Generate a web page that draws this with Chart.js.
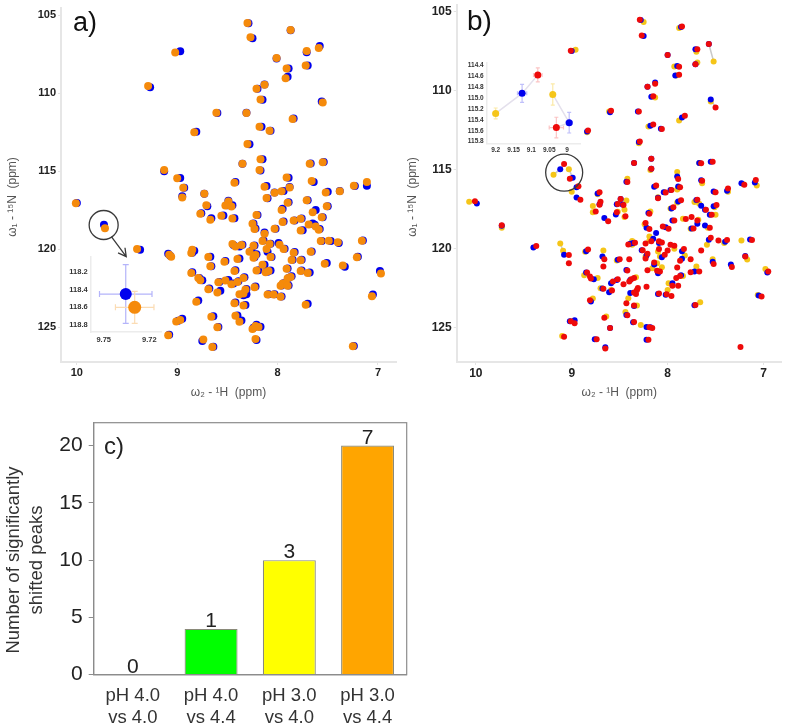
<!DOCTYPE html>
<html>
<head>
<meta charset="utf-8">
<title>NMR peaks</title>
<script src="https://cdn.jsdelivr.net/npm/chart.js@4/dist/chart.umd.min.js"></script>
<style>
html, body { margin: 0; padding: 0; background: #fff; }
#page { position: relative; width: 787px; height: 727px; overflow: hidden; }
.box { position: absolute; }
.box canvas { display: block; filter: blur(0.35px); }
</style>
</head>
<body>
<div id="page">
  <div class="box" style="left:0;top:0"><canvas id="chartA" width="400" height="410"></canvas></div>
  <div class="box" style="left:400px;top:0"><canvas id="chartB" width="387" height="410"></canvas></div>
  <div class="box" style="left:0;top:410px"><canvas id="chartC" width="430" height="317"></canvas></div>
  <div class="box" style="left:50px;top:250px"><canvas id="insetA" width="125" height="100"></canvas></div>
  <div class="box" style="left:430px;top:50px"><canvas id="insetB" width="160" height="110"></canvas></div>
</div>
<script>
var hTicks = [10, 9, 8, 7];
var nTicks = [105, 110, 115, 120, 125];

// panel a, [1H, 15N] in ppm
var aOrange = [[8.30,105.51],[7.87,105.96],[8.27,106.43],[7.71,107.31],[7.59,107.12],[9.02,107.41],[8.01,107.76],[7.91,108.42],[7.72,108.23],[7.92,109.06],[9.29,109.55],[8.13,109.47],[8.21,109.72],[8.17,110.41],[7.55,110.60],[8.61,111.26],[8.31,111.28],[7.85,111.67],[8.18,112.16],[8.08,112.41],[8.83,112.52],[8.30,113.27],[8.17,114.25],[8.35,114.53],[7.68,114.53],[7.55,114.44],[9.13,114.94],[8.18,114.94],[9.00,115.47],[7.91,115.41],[7.66,115.64],[8.43,115.75],[7.11,115.71],[7.24,115.94],[8.94,116.07],[8.13,116.00],[7.88,116.05],[7.96,116.30],[8.03,116.39],[7.52,116.37],[7.38,116.30],[8.73,116.45],[8.95,116.69],[8.11,116.73],[7.71,116.88],[10.01,117.07],[7.90,117.03],
[8.71,117.19],[8.49,116.96],[8.52,117.21],[8.46,117.28],[7.51,117.26],[7.96,117.49],[7.65,117.64],[8.77,117.74],[8.56,117.87],[8.67,118.13],[8.45,118.04],[8.21,117.81],[7.56,117.96],[7.77,118.06],[7.84,118.17],[7.95,118.26],[8.25,118.38],[8.23,118.72],[8.03,118.70],[7.69,118.43],[7.77,118.81],[7.62,118.55],[7.59,118.77],[9.72,118.66],[8.13,119.02],[8.15,119.49],[7.57,119.49],[7.49,119.47],[7.40,119.57],[7.16,119.47],[8.45,119.68],[8.42,119.83],[8.36,119.74],[8.24,119.79],[8.08,119.68],[7.98,119.72],[7.94,120.00],[8.11,120.00],[9.40,120.00],[8.85,120.04],[8.86,120.26],[9.08,120.36],[9.06,120.49],[8.28,120.17],[8.22,120.38],[8.24,120.55],[8.69,120.51],[8.07,120.51],[7.84,120.23],[7.67,120.17],[8.53,120.81],[8.40,120.64],[7.86,120.70],[7.77,120.72],[8.15,121.00],[7.53,120.94],[7.35,121.06],[7.21,120.53],[8.67,121.11],[7.91,121.26],[7.77,121.40],[7.70,121.53],[8.43,121.40],[8.21,121.38],[8.12,121.49],[8.09,121.40],[8.86,121.53],[6.97,121.57],[7.87,121.79],[7.90,121.87],[8.79,121.85],[8.77,122.00],[8.34,121.85],[8.40,122.11],[8.59,122.13],[8.52,122.02],[8.46,122.26],[7.95,122.21],[7.97,122.36],[7.90,122.36],[8.69,122.57],[8.60,122.79],[8.32,122.60],[8.23,122.45],[8.38,122.89],[8.34,122.85],[8.10,122.91],[8.04,122.91],[7.97,123.06],[7.06,123.02],[8.81,123.38],[8.43,123.47],[8.34,123.62],[7.72,123.57],[8.66,124.34],[8.42,124.28],[8.38,124.66],[9.01,124.64],[8.97,124.55],[8.60,125.02],[8.25,125.13],[8.19,125.00],[8.22,124.94],[9.09,125.53],[8.74,125.79],[8.22,125.77],[8.65,126.28],[7.25,126.23]];

var aBlue = [[8.29,105.53],[7.87,105.98],[8.25,106.49],[7.71,107.39],[7.58,106.98],[8.97,107.33],[8.01,107.78],[7.89,108.42],[7.70,108.23],[7.90,108.96],[9.27,109.63],[8.13,109.45],[8.20,109.73],[8.15,110.43],[7.56,110.54],[8.60,111.28],[8.31,111.26],[7.84,111.64],[8.16,112.16],[8.07,112.41],[8.81,112.48],[8.28,113.29],[8.15,114.25],[8.35,114.53],[7.67,114.51],[7.54,114.42],[9.13,115.02],[8.17,114.96],[8.97,115.45],[7.89,115.43],[7.64,115.70],[8.42,115.70],[7.11,115.95],[7.23,115.96],[8.93,116.07],[8.11,115.96],[7.88,116.03],[7.94,116.28],[8.03,116.37],[7.50,116.33],[7.38,116.28],[8.73,116.45],[8.95,116.62],[8.10,116.75],[7.70,116.88],[10.00,117.05],[7.89,117.00],
[8.70,117.26],[8.49,116.90],[8.50,117.19],[8.45,117.19],[7.50,117.26],[7.95,117.42],[7.62,117.49],[8.76,117.70],[8.54,117.85],[8.66,118.02],[8.43,118.02],[8.20,117.81],[7.55,117.96],[7.76,118.04],[7.83,118.17],[7.94,118.24],[8.24,118.36],[8.22,118.68],[8.02,118.70],[7.65,118.36],[7.75,118.79],[7.63,118.45],[7.58,118.72],[9.73,118.45],[8.13,118.94],[8.14,119.45],[7.56,119.49],[7.47,119.49],[7.39,119.62],[7.15,119.45],[8.44,119.74],[8.38,119.83],[8.35,119.72],[8.23,119.77],[8.07,119.66],[7.99,119.62],[7.93,119.98],[8.10,120.17],[9.37,120.04],[8.83,120.11],[8.85,120.23],[9.09,120.30],[9.07,120.43],[8.26,120.11],[8.21,120.34],[8.23,120.53],[8.67,120.49],[8.06,120.51],[7.83,120.19],[7.66,120.15],[8.52,120.77],[8.38,120.60],[7.85,120.68],[7.76,120.68],[8.13,121.00],[7.51,120.89],[7.33,121.13],[7.20,120.49],[8.66,121.11],[7.90,121.24],[7.76,121.38],[7.68,121.51],[8.42,121.36],[8.19,121.36],[8.10,121.45],[8.07,121.38],[8.85,121.49],[6.98,121.40],[7.86,121.74],[7.89,121.85],[8.78,121.85],[8.75,122.00],[8.33,121.81],[8.39,122.06],[8.58,122.11],[8.49,121.98],[8.44,122.21],[7.94,122.19],[7.96,122.34],[7.89,122.34],[8.68,122.53],[8.57,122.68],[8.31,122.56],[8.22,122.40],[8.34,122.96],[8.31,122.89],[8.09,122.89],[8.03,122.89],[7.96,123.04],[7.05,122.92],[8.79,123.30],[8.42,123.43],[8.32,123.58],[7.70,123.51],[8.64,124.30],[8.40,124.26],[8.36,124.58],[8.99,124.60],[8.95,124.47],[8.59,125.00],[8.24,125.04],[8.17,124.98],[8.21,124.86],[9.08,125.49],[8.75,125.89],[8.21,125.83],[8.64,126.26],[7.24,126.21]];

// panel b
var bYellow = [[8.25,105.64],[7.88,106.02],[8.96,107.40],[7.52,108.14],[7.70,107.52],[7.69,108.20],[7.93,108.46],[7.91,109.03],[8.13,110.43],[7.55,110.68],[8.61,111.32],[7.88,111.89],[8.20,112.27],[8.84,112.63],[8.30,113.33],[8.18,115.03],[7.67,114.58],[9.19,115.32],[9.03,114.97],[7.90,115.15],[7.64,115.87],[8.42,115.58],[7.21,115.92],[7.07,116.00],[9.00,116.40],[8.12,116.02],[7.90,116.26],[7.37,116.40],[8.03,116.43],[7.51,116.43],[8.73,116.56],[8.10,116.75],[7.90,117.08],[7.72,117.06],[8.78,117.30],[8.43,116.96],[7.51,117.38],[10.07,117.04],[8.45,117.55],[8.78,117.71],[8.52,117.67],[8.45,118.01],[8.18,117.65],[8.24,118.47],[7.84,118.11],[7.97,117.46],[7.67,117.16],[7.68,118.18],[7.76,118.75],[7.50,117.86],[7.58,118.69],[8.19,119.24],[7.41,119.66],[7.23,119.49],[7.59,119.77],[9.73,118.69],[9.12,119.68],[9.09,120.15],[8.86,120.21],[8.67,120.13],[8.53,120.76],[8.37,119.53],[8.37,119.77],[8.19,119.51],[7.93,120.02],[8.10,120.19],[8.23,120.51],[8.08,120.51],[7.82,120.45],[7.53,120.68],[7.17,120.70],[8.16,121.25],[8.11,120.93],[8.06,121.19],[7.70,121.14],[6.98,121.31],[8.87,121.70],[8.73,121.87],[8.33,121.82],[7.84,121.74],[7.99,122.20],[8.00,122.63],[8.70,122.52],[8.59,122.63],[8.41,123.16],[7.06,122.95],[8.78,123.18],[8.32,123.62],[7.66,123.41],[8.64,124.32],[8.44,124.03],[8.28,124.85],[9.10,125.55]];

var bBlue = [[8.28,105.51],[7.86,105.95],[8.25,106.53],[9.00,107.48],[7.57,107.03],[7.71,107.37],[8.00,107.73],[7.71,108.31],[7.90,108.43],[7.92,109.03],[8.13,109.47],[8.21,109.75],[8.17,110.38],[7.55,110.55],[8.60,111.36],[8.31,111.32],[7.85,111.70],[8.18,112.21],[8.07,112.40],[8.84,112.59],[8.30,113.25],[8.17,114.31],[8.35,114.58],[7.67,114.58],[7.55,114.50],[9.12,114.97],[8.17,114.94],[8.99,115.51],[7.90,115.43],[7.65,115.68],[8.43,115.77],[7.23,115.87],[7.09,115.81],[8.95,116.11],[8.14,116.09],[7.89,116.07],[7.38,116.34],[8.04,116.43],[7.97,116.30],[7.52,116.38],[8.73,116.51],[8.95,116.76],[8.10,116.79],[7.89,117.02],[7.70,116.93],[8.71,117.19],[8.49,116.87],[7.52,117.32],[9.99,117.15],[8.53,117.19],[8.47,117.21],[8.66,118.07],[8.54,117.84],[8.20,117.75],[8.22,118.69],[8.02,118.66],[7.96,117.46],[7.95,118.22],[7.65,117.29],[7.61,117.54],[7.69,118.43],[7.75,118.73],[7.56,117.86],[7.61,118.54],[8.12,119.02],[8.15,119.39],[7.57,119.45],[7.40,119.58],[7.14,119.43],[9.40,119.94],[9.73,118.56],[9.08,120.40],[8.85,120.17],[8.68,120.51],[8.52,120.72],[8.39,119.70],[8.36,119.66],[8.27,120.11],[8.09,119.66],[7.85,120.17],[8.22,120.45],[8.06,120.55],[7.85,120.66],[7.53,120.85],[7.34,121.02],[7.19,120.47],[8.14,121.02],[8.10,121.57],[7.72,121.46],[6.96,121.53],[8.85,121.53],[8.77,121.95],[8.39,122.00],[8.53,122.00],[8.59,122.20],[7.86,121.70],[7.95,122.20],[8.68,122.54],[8.61,122.78],[8.39,122.82],[8.43,121.36],[8.10,122.88],[8.02,122.93],[7.05,122.99],[8.80,123.37],[8.35,123.65],[7.72,123.60],[8.43,124.22],[8.36,124.68],[8.97,124.56],[9.02,124.62],[8.60,125.05],[8.22,124.98],[8.18,125.00],[8.76,125.75],[8.22,125.79],[8.65,126.27]];

var bRed = [[8.29,105.49],[7.85,105.93],[8.27,106.50],[9.01,107.46],[7.57,107.03],[7.69,107.37],[8.00,107.73],[7.71,108.31],[7.88,108.48],[7.88,108.99],[8.13,109.56],[8.21,109.75],[8.15,110.34],[7.50,111.06],[8.59,111.27],[8.30,111.32],[7.82,111.59],[8.15,112.14],[8.06,112.42],[8.83,112.52],[8.29,113.22],[8.17,114.31],[8.35,114.58],[7.65,114.60],[7.53,114.50],[9.08,114.64],[8.17,114.94],[9.02,115.58],[7.89,115.60],[7.64,115.70],[8.42,115.79],[7.20,115.96],[7.08,115.66],[8.93,116.05],[8.12,116.00],[7.87,116.11],[7.37,116.19],[8.02,116.45],[7.96,116.30],[7.50,116.43],[8.71,116.43],[8.91,116.91],[8.10,116.81],[7.86,116.94],[7.69,116.91],[8.70,117.04],[8.49,116.87],[7.49,117.25],[10.01,117.00],[8.52,117.18],[8.46,117.24],[8.71,117.23],[8.75,117.65],[8.62,118.28],[8.53,117.71],[8.44,117.96],[8.19,117.80],[8.23,118.39],[8.19,118.77],[8.05,118.60],[7.99,118.75],[7.94,117.39],[7.93,118.22],[7.60,117.54],[7.81,118.13],[7.75,118.01],[7.73,118.73],[7.69,118.22],[7.54,117.86],[7.56,118.69],[8.09,119.55],[8.17,119.55],[7.55,119.32],[7.47,119.49],[7.38,119.47],[7.12,119.47],[9.37,119.85],[9.73,118.52],[9.03,120.42],[9.03,120.93],[8.83,120.06],[8.66,120.68],[8.67,121.14],[8.50,120.68],[8.40,120.68],[8.41,119.75],[8.34,119.64],[8.23,119.68],[8.26,120.11],[7.97,119.77],[7.93,119.83],[8.09,120.04],[8.06,119.62],[7.83,120.04],[8.00,120.13],[8.21,120.34],[8.23,120.64],[8.03,120.40],[7.76,120.68],[7.87,120.78],[7.65,120.13],[7.52,120.98],[7.33,121.17],[7.19,120.51],[8.14,120.89],[8.08,121.46],[8.11,121.42],[7.90,121.21],[8.21,121.38],[8.42,121.40],[7.76,121.51],[7.67,121.46],[6.95,121.46],[8.84,121.53],[8.81,121.78],[8.80,121.91],[8.35,121.87],[8.38,121.95],[8.40,122.10],[8.52,121.95],[8.57,122.10],[8.46,122.27],[7.89,122.37],[7.87,121.74],[7.91,121.87],[7.95,122.37],[8.22,122.42],[8.67,122.56],[8.58,122.67],[8.31,122.50],[8.32,122.63],[8.33,122.88],[8.35,122.80],[8.43,123.48],[8.09,122.86],[8.01,122.90],[7.96,123.01],[7.02,123.05],[8.81,123.29],[8.35,123.62],[7.71,123.58],[8.66,124.39],[8.42,124.24],[8.35,124.66],[9.01,124.62],[8.97,124.75],[8.60,125.05],[8.19,125.00],[8.16,125.05],[9.08,125.60],[8.74,125.75],[8.20,125.79],[8.65,126.34],[7.24,126.25]];

// grey connectors in panel b, null breaks the line
var bLinks = [[7.57,107.03],[7.52,108.14],null,[9.19,115.32],[9.12,114.97],[9.08,114.64],null,[9.03,114.97],[8.99,115.51],[9.02,115.58],null,[9.12,119.68],[9.09,120.15],[9.08,120.40],null,[7.55,110.55],[7.50,111.06],null,[7.85,111.70],[7.88,111.89]];

// insets
var insetABlue = [[9.7355,118.45]], insetABlueErrH = [0.0173], insetABlueErrN = [0.33];
var insetAOrange = [[9.7296,118.60]], insetAOrangeErrH = [0.0127], insetAOrangeErrN = [0.18];
var insetAH = [9.75, 9.72];
var insetAN = [118.2, 118.4, 118.6, 118.8];

var insetBYellow = [[9.2,115.28],[9.04,114.93]], insetBYellowErrH = [0.0075,0.006], insetBYellowErrN = [0.10,0.196];
var insetBBlue = [[9.126,114.91],[8.994,115.45]], insetBBlueErrH = [0.013,0.009], insetBBlueErrN = [0.166,0.19];
var insetBRed = [[9.082,114.57],[9.03,115.54]], insetBRedErrH = [0.012,0.02], insetBRedErrN = [0.13,0.19];
var insetBLinks = [[9.2,115.28],[9.126,114.91],[9.082,114.57],null,[9.04,114.93],[8.994,115.45],[9.03,115.54]];
var insetBH = [9.2, 9.15, 9.1, 9.05, 9];
var insetBN = [114.4, 114.6, 114.8, 115.0, 115.2, 115.4, 115.6, 115.8];

// panel c
var barCategories = [['pH 4.0','vs 4.0'],['pH 4.0','vs 4.4'],['pH 3.0','vs 4.0'],['pH 3.0','vs 4.4']];
var barValues = [0, 4, 10, 20];
var barLabels = ['0', '1', '3', '7'];
var barColors = ['#00ff00', '#00ff00', '#ffff00', '#ffa500'];

function pts(list) {
    return list.map(function (p) { return p ? {x: p[0], y: p[1]} : {x: NaN, y: NaN}; });
}

function fixedTicks(list) {
    return function (scale) { scale.ticks = list.map(function (v) { return {value: v}; }); };
}

var decor = {
    id: 'decor',
    beforeDatasetsDraw: function (chart) {
        var ctx = chart.ctx, sx = chart.scales.x, sy = chart.scales.y;
        chart.data.datasets.forEach(function (ds) {
            if (!ds.errH) return;
            ctx.save();
            ctx.strokeStyle = ds.errColor;
            ctx.lineWidth = 1.2;
            ds.data.forEach(function (p, i) {
                var px = sx.getPixelForValue(p.x), py = sy.getPixelForValue(p.y);
                var x0 = sx.getPixelForValue(p.x + ds.errH[i]), x1 = sx.getPixelForValue(p.x - ds.errH[i]);
                var y0 = sy.getPixelForValue(p.y - ds.errN[i]), y1 = sy.getPixelForValue(p.y + ds.errN[i]);
                var c = ds.capSize;
                ctx.beginPath();
                ctx.moveTo(x0, py); ctx.lineTo(x1, py);
                ctx.moveTo(px, y0); ctx.lineTo(px, y1);
                ctx.moveTo(x0, py - c); ctx.lineTo(x0, py + c);
                ctx.moveTo(x1, py - c); ctx.lineTo(x1, py + c);
                ctx.moveTo(px - c, y0); ctx.lineTo(px + c, y0);
                ctx.moveTo(px - c, y1); ctx.lineTo(px + c, y1);
                ctx.stroke();
            });
            ctx.restore();
        });
    },
    afterDraw: function (chart, args, opts) {
        var ctx = chart.ctx, sx = chart.scales.x, sy = chart.scales.y;
        ctx.save();
        ctx.strokeStyle = '#3a3a3a';
        ctx.lineWidth = 1.3;
        if (opts.circle) {
            ctx.beginPath();
            ctx.arc(sx.getPixelForValue(opts.circle.h), sy.getPixelForValue(opts.circle.n), opts.circle.r, 0, Math.PI * 2);
            ctx.stroke();
        }
        if (opts.arrow) {
            var ax = sx.getPixelForValue(opts.arrow[0]), ay = sy.getPixelForValue(opts.arrow[1]);
            var bx = sx.getPixelForValue(opts.arrow[2]), by = sy.getPixelForValue(opts.arrow[3]);
            var ang = Math.atan2(by - ay, bx - ax);
            ctx.beginPath();
            ctx.moveTo(ax, ay); ctx.lineTo(bx, by);
            ctx.moveTo(bx - 9 * Math.cos(ang - 0.5), by - 9 * Math.sin(ang - 0.5));
            ctx.lineTo(bx, by);
            ctx.lineTo(bx - 9 * Math.cos(ang + 0.5), by - 9 * Math.sin(ang + 0.5));
            ctx.stroke();
        }
        if (opts.box) {
            var a = chart.chartArea;
            ctx.strokeStyle = '#8c8c8c';
            ctx.lineWidth = 1.2;
            ctx.strokeRect(a.left, a.top, a.right - a.left, a.bottom - a.top);
        }
        if (opts.barLabels) {
            ctx.fillStyle = '#222';
            ctx.font = '21px "Liberation Sans"';
            ctx.textAlign = 'center';
            ctx.textBaseline = 'alphabetic';
            chart.getDatasetMeta(0).data.forEach(function (bar, i) {
                ctx.fillText(opts.barLabels[i], bar.x, bar.y - 2);
            });
        }
        (opts.texts || []).forEach(function (t) {
            ctx.save();
            ctx.translate(t.x, t.y);
            if (t.rotate) ctx.rotate(t.rotate);
            ctx.fillStyle = t.color;
            ctx.font = t.font;
            ctx.textAlign = t.align || 'center';
            ctx.textBaseline = 'middle';
            ctx.fillText(t.text, 0, 0);
            ctx.restore();
        });
        ctx.restore();
    }
};

function spectrumOptions(cfg) {
    return {
        responsive: false,
        animation: false,
        layout: {padding: {top: cfg.top, right: cfg.right, left: 0, bottom: 0}},
        plugins: {legend: {display: false}, tooltip: {enabled: false}, decor: cfg.decor},
        scales: {
            x: {
                type: 'linear', reverse: true, min: cfg.xMin, max: cfg.xMax,
                afterBuildTicks: fixedTicks(hTicks),
                afterFit: function (s) { s.height = 48; s.paddingLeft = 0; s.paddingRight = 0; },
                grid: {drawOnChartArea: false, tickLength: 3, tickColor: '#e2e2e2'},
                border: {color: '#e6e6e6', width: 2},
                ticks: {autoSkip: false, maxRotation: 0, padding: 1, color: '#222', font: {family: 'Liberation Sans', size: cfg.tickSize, weight: 'bold'}},
                title: {display: true, text: 'ω₂ - ¹H  (ppm)', color: '#555', font: {family: 'Liberation Sans', size: 12}, padding: {top: 0, bottom: 10}}
            },
            y: {
                type: 'linear', reverse: true, min: cfg.yMin, max: cfg.yMax,
                afterBuildTicks: fixedTicks(nTicks),
                afterFit: function (s) { s.width = cfg.left; s.paddingTop = 0; s.paddingBottom = 0; },
                grid: {drawOnChartArea: false, tickLength: 3, tickColor: '#e2e2e2'},
                border: {color: '#e6e6e6', width: 2},
                ticks: {autoSkip: false, padding: 2, color: '#222', font: {family: 'Liberation Sans', size: cfg.tickSize, weight: 'bold'}}
            }
        }
    };
}

function dots(list, color, radius) {
    return {type: 'scatter', data: pts(list), backgroundColor: color, borderWidth: 0, pointRadius: radius, pointHoverRadius: radius};
}

function errDots(list, color, radius, errH, errN, errColor, capSize) {
    var ds = dots(list, color, radius);
    ds.errH = errH; ds.errN = errN; ds.errColor = errColor; ds.capSize = capSize;
    return ds;
}

function links(list, color, width) {
    return {type: 'scatter', data: pts(list), showLine: true, spanGaps: false, borderColor: color, borderWidth: width, pointRadius: 0};
}

// the first dataset is painted last, so the top layer goes first
new Chart(document.getElementById('chartA'), {
    type: 'scatter',
    data: {datasets: [dots(aOrange, '#f58a0b', 4), dots(aBlue, '#0000ee', 4)]},
    options: spectrumOptions({
        top: 8, right: 2, left: 61, tickSize: 11,
        xMin: 6.82, xMax: 10.158, yMin: 104.55, yMax: 127.24,
        decor: {
            circle: {h: 9.733, n: 118.46, r: 14.5},
            arrow: [9.656, 119.21, 9.508, 120.49],
            texts: [
                {text: 'a)', x: 85, y: 24, font: '27px "Liberation Sans"', color: '#111'},
                {text: 'ω₁ - ¹⁵N  (ppm)', x: 13, y: 197, rotate: -Math.PI / 2, font: '12px "Liberation Sans"', color: '#555'}
            ]
        }
    }),
    plugins: [decor]
});

new Chart(document.getElementById('chartB'), {
    type: 'scatter',
    data: {datasets: [dots(bRed, '#ee0a0a', 3), dots(bBlue, '#0000ee', 3), dots(bYellow, '#f5c518', 3), links(bLinks, '#c9c9c9', 1.5)]},
    options: spectrumOptions({
        top: 5, right: 5.3, left: 56.7, tickSize: 12,
        xMin: 6.81, xMax: 10.2, yMin: 104.56, yMax: 127.2,
        decor: {
            circle: {h: 9.079, n: 115.19, r: 18.5},
            texts: [
                {text: 'b)', x: 79.5, y: 22, font: '28px "Liberation Sans"', color: '#111'},
                {text: 'ω₁ - ¹⁵N  (ppm)', x: 13, y: 197, rotate: -Math.PI / 2, font: '12px "Liberation Sans"', color: '#555'}
            ]
        }
    }),
    plugins: [decor]
});

new Chart(document.getElementById('chartC'), {
    type: 'bar',
    data: {
        labels: barCategories,
        datasets: [{
            data: barValues, backgroundColor: barColors, borderColor: '#8a8a7a', borderWidth: 1.2,
            barPercentage: 0.677, categoryPercentage: 1
        }]
    },
    options: {
        responsive: false,
        animation: false,
        layout: {padding: {top: 12.7, right: 23.3, left: 0, bottom: 0}},
        plugins: {
            legend: {display: false}, tooltip: {enabled: false},
            decor: {
                box: true,
                barLabels: barLabels,
                texts: [
                    {text: 'c)', x: 114, y: 37, font: '24px "Liberation Sans"', color: '#222'},
                    {text: 'Number of significantly', x: 14, y: 150, rotate: -Math.PI / 2, font: '18.5px "Liberation Sans"', color: '#333'},
                    {text: 'shifted peaks', x: 37, y: 150, rotate: -Math.PI / 2, font: '18.5px "Liberation Sans"', color: '#333'}
                ]
            }
        },
        scales: {
            x: {
                afterFit: function (s) { s.height = 52.3; s.paddingLeft = 0; s.paddingRight = 0; },
                grid: {display: false, drawTicks: false},
                border: {color: '#8c8c8c', width: 1.2},
                ticks: {autoSkip: false, maxRotation: 0, padding: 10, color: '#333', font: {family: 'Liberation Sans', size: 18.5, lineHeight: 1.19}}
            },
            y: {
                min: 0, max: 22,
                afterBuildTicks: fixedTicks([0, 5, 10, 15, 20]),
                afterFit: function (s) { s.width = 93.7; s.paddingTop = 0; s.paddingBottom = 0; },
                grid: {drawOnChartArea: false, tickLength: 5, tickColor: '#8c8c8c'},
                border: {color: '#8c8c8c', width: 1.2},
                ticks: {padding: 6, color: '#222', font: {family: 'Liberation Sans', size: 21}}
            }
        }
    },
    plugins: [decor]
});

function insetOptions(cfg) {
    return {
        responsive: false,
        animation: false,
        layout: {padding: {top: cfg.top, right: cfg.right, left: 0, bottom: 0}},
        plugins: {legend: {display: false}, tooltip: {enabled: false}},
        scales: {
            x: {
                type: 'linear', reverse: true, min: cfg.xMin, max: cfg.xMax,
                afterBuildTicks: fixedTicks(cfg.xTicks),
                afterFit: function (s) { s.height = cfg.bottom; s.paddingLeft = 0; s.paddingRight = 0; },
                grid: {display: false, drawTicks: false},
                border: {color: '#ececec', width: 1.5},
                ticks: {autoSkip: false, maxRotation: 0, padding: 3, color: '#333', font: {family: 'Liberation Sans', size: cfg.font, weight: 'bold'},
                    callback: function (v) { return String(v); }}
            },
            y: {
                type: 'linear', reverse: true, min: cfg.yMin, max: cfg.yMax,
                afterBuildTicks: fixedTicks(cfg.yTicks),
                afterFit: function (s) { s.width = cfg.left; s.paddingTop = 0; s.paddingBottom = 0; },
                grid: {display: false, drawTicks: false},
                border: {color: '#ececec', width: 1.5},
                ticks: {autoSkip: false, padding: 3, color: '#333', font: {family: 'Liberation Sans', size: cfg.font, weight: 'bold'},
                    callback: function (v) { return v.toFixed(1); }}
            }
        }
    };
}

new Chart(document.getElementById('insetA'), {
    type: 'scatter',
    data: {datasets: [
        errDots(insetABlue, '#0000ee', 6, insetABlueErrH, insetABlueErrN, '#b4b4fa', 3),
        errDots(insetAOrange, '#f58a0b', 6.5, insetAOrangeErrH, insetAOrangeErrN, '#fbdcb4', 3)
    ]},
    options: insetOptions({
        top: 6, right: 13.3, left: 40.7, bottom: 18, font: 7.5,
        xMin: 9.7118, xMax: 9.7586, yMin: 118.028, yMax: 118.877,
        xTicks: insetAH, yTicks: insetAN
    }),
    plugins: [decor]
});

new Chart(document.getElementById('insetB'), {
    type: 'scatter',
    data: {datasets: [
        errDots(insetBRed, '#ee0a0a', 3.5, insetBRedErrH, insetBRedErrN, '#fbc4c4', 2),
        errDots(insetBBlue, '#0000ee', 3.5, insetBBlueErrH, insetBBlueErrN, '#c0c0fa', 2),
        errDots(insetBYellow, '#f5c518', 3.5, insetBYellowErrH, insetBYellowErrN, '#fbeaa8', 2),
        links(insetBLinks, '#e4e0ec', 1.5)
    ]},
    options: insetOptions({
        top: 12.7, right: 10, left: 56.7, bottom: 16.7, font: 6.5,
        xMin: 8.9637, xMax: 9.2252, yMin: 114.345, yMax: 115.83,
        xTicks: insetBH, yTicks: insetBN
    }),
    plugins: [decor]
});
</script>
</body>
</html>
